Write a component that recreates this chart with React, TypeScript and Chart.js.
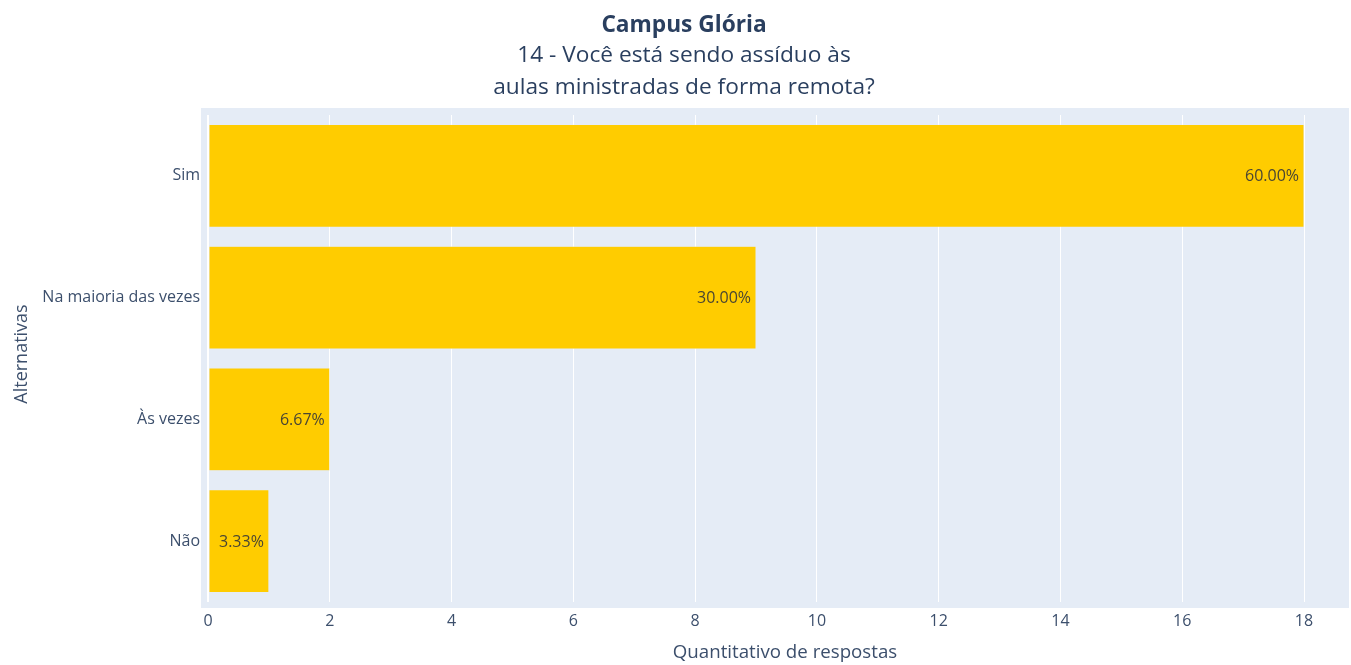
import React, { useEffect, useRef } from 'react';
import { Chart, registerables } from 'chart.js';

Chart.register(...registerables);

const categories = ['Sim', 'Na maioria das vezes', 'Às vezes', 'Não'];
const counts = [18, 9, 2, 1];
const percentLabels = ['60.00%', '30.00%', '6.67%', '3.33%'];
const xTicks = [0, 2, 4, 6, 8, 10, 12, 14, 16, 18];
const titleLines = ['Campus Glória', '14 - Você está sendo assíduo às', 'aulas ministradas de forma remota?'];
const xTitle = 'Quantitativo de respostas';
const yTitle = 'Alternativas';

const FONT = '"Open Sans", "DejaVu Sans", sans-serif';
const TEXT = '#2a3f5f';
const TICK = '#3c4f6c';

const bgPlugin = {
  id: 'plotBg',
  beforeDraw(chart: any) {
    const { ctx, chartArea: a } = chart;
    ctx.save();
    ctx.fillStyle = '#E5ECF6';
    ctx.fillRect(a.left - 7, a.top - 7, a.right - a.left + 14, a.bottom - a.top + 13);
    ctx.restore();
  },
};

const textPlugin = {
  id: 'texts',
  afterDraw(chart: any) {
    const { ctx } = chart;
    ctx.save();
    ctx.fillStyle = TEXT;
    ctx.textAlign = 'center';
    ctx.textBaseline = 'alphabetic';
    ctx.font = `bold 22.7px ${FONT}`;
    ctx.fillText(titleLines[0], 684, 32);
    ctx.font = `22.7px ${FONT}`;
    ctx.fillText(titleLines[1], 684, 62);
    ctx.fillText(titleLines[2], 684, 94);
    ctx.fillStyle = TICK;
    ctx.font = `18.7px ${FONT}`;
    ctx.fillText(xTitle, 785, 658);
    ctx.translate(27, 354);
    ctx.rotate(-Math.PI / 2);
    ctx.font = `18px ${FONT}`;
    ctx.fillText(yTitle, 0, 0);
    ctx.restore();
  },
};

const barLabelPlugin = {
  id: 'barLabels',
  afterDatasetsDraw(chart: any) {
    const { ctx } = chart;
    const meta = chart.getDatasetMeta(0);
    ctx.save();
    ctx.font = `16px ${FONT}`;
    ctx.fillStyle = '#4a4632';
    ctx.textAlign = 'right';
    ctx.textBaseline = 'middle';
    meta.data.forEach((el: any, i: number) => {
      ctx.fillText(percentLabels[i], el.x - 5, el.y + 1);
    });
    ctx.restore();
  },
};

export default function App() {
  const ref = useRef<HTMLCanvasElement>(null);
  useEffect(() => {
    if (!ref.current) return;
    const chart = new Chart(ref.current, {
      type: 'bar',
      data: {
        labels: categories,
        datasets: [
          {
            data: counts,
            backgroundColor: '#FFCC00',
            borderColor: '#E5ECF6',
            borderWidth: 0.5,
            borderSkipped: false,
            barPercentage: 0.845,
            categoryPercentage: 1,
          },
        ],
      },
      options: {
        indexAxis: 'y',
        responsive: false,
        animation: false,
        layout: { padding: { top: 115, right: 9, left: 0, bottom: 0 } },
        plugins: {
          legend: { display: false },
          title: { display: false },
          tooltip: { enabled: false },
        },
        scales: {
          x: {
            type: 'linear',
            min: 0,
            max: 18.624,
            afterBuildTicks(scale: any) {
              scale.ticks = xTicks.map((v) => ({ value: v }));
            },
            afterFit(scale: any) {
              scale.height = 63;
            },
            grid: {
              color: '#ffffff',
              lineWidth: (c: any) => (c.tick && c.tick.value === 0 ? 2 : 1),
              drawTicks: false,
            },
            border: { display: false },
            ticks: {
              font: { family: FONT, size: 16 },
              color: TICK,
              padding: 10,
              maxRotation: 0,
            },
          },
          y: {
            type: 'category',
            afterFit(scale: any) {
              scale.width = 208;
            },
            grid: { display: false, drawTicks: false },
            border: { display: false },
            ticks: {
              font: { family: FONT, size: 16 },
              color: TICK,
              padding: 8,
            },
          },
        },
      },
      plugins: [bgPlugin, barLabelPlugin, textPlugin],
    });
    return () => chart.destroy();
  }, []);
  return (
    <div style={{ position: 'absolute', left: 0, top: 0, width: 1351, height: 665, background: '#fff' }}>
      <canvas ref={ref} width={1351} height={665} style={{ display: 'block', width: 1351, height: 665 }} />
    </div>
  );
}
